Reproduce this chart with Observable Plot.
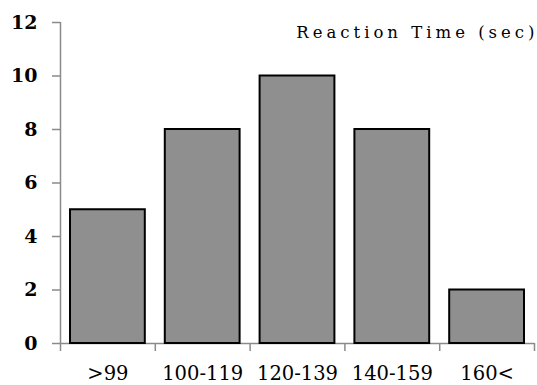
<!DOCTYPE html>
<html>
<head>
<meta charset="utf-8">
<script src="https://cdn.jsdelivr.net/npm/d3@7"></script>
<script src="https://cdn.jsdelivr.net/npm/@observablehq/plot@0.6"></script>
<style>
  html, body { margin: 0; padding: 0; background: #fff; }
  #chart svg { display: block; }
</style>
</head>
<body>
<div id="chart"></div>
<script>
const categories = [">99", "100-119", "120-139", "140-159", "160<"];
const counts = [5, 8, 10, 8, 2];
const yTicks = [0, 2, 4, 6, 8, 10, 12];
const title = "Reaction Time (sec)";

const data = categories.map((c, i) => ({cat: c, i, value: counts[i]}));
const boundaries = d3.range(categories.length + 1);
const centers = categories.map((c, i) => i + 0.5);

const axisGray = "#8a8a8a";
const font = "'DejaVu Serif', 'Liberation Serif', serif";

const chart = Plot.plot({
  width: 537,
  height: 385,
  marginLeft: 60,
  marginRight: 3,
  marginTop: 22,
  marginBottom: 42,
  style: {fontFamily: font, background: "#fff", color: "#000"},
  x: {type: "linear", domain: [0, categories.length]},
  y: {domain: [0, 12]},
  marks: [
    Plot.ruleY([0], {stroke: axisGray, strokeWidth: 1.5}),
    Plot.ruleX([0], {stroke: axisGray, strokeWidth: 1.5}),
    Plot.axisY({
      ticks: yTicks, tickSize: 8, tickPadding: 15, stroke: axisGray,
      fontSize: 19, fontWeight: "bold", fill: "#000", label: null, strokeWidth: 1.5
    }),
    Plot.axisX({
      ticks: boundaries, tickSize: 8, tickFormat: () => "", stroke: axisGray, strokeWidth: 1.5, label: null
    }),
    Plot.axisX({
      ticks: centers, tickSize: 0, tickPadding: 23,
      tickFormat: (d) => categories[Math.round(d - 0.5)],
      fontSize: 19.5, fill: "#000", label: null
    }),
    Plot.rectY(data, {
      x1: "i", x2: (d) => d.i + 1, y: "value",
      insetLeft: 10, insetRight: 10,
      fill: "#8f8f8f", stroke: "#000", strokeWidth: 2
    }),
    Plot.text([title], {
      frameAnchor: "top-right", textAnchor: "end", lineAnchor: "bottom",
      dx: 4, dy: 15, fontSize: 16.5, fill: "#000", className: "title-text"
    })
  ]
});

d3.select(chart).selectAll(".title-text text").attr("letter-spacing", 4);
document.getElementById("chart").appendChild(chart);
</script>
</body>
</html>
